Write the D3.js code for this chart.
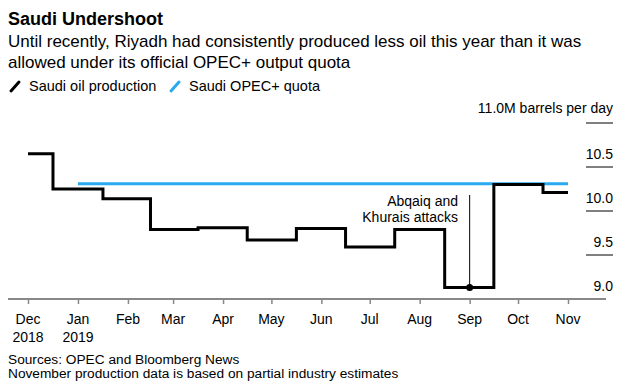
<!DOCTYPE html>
<html lang="en">
	<head>
		<meta charset="utf-8">
		<title>Saudi Undershoot</title>
		<script type="text/javascript" src="https://cdn.jsdelivr.net/npm/d3@7"></script>
		<style type="text/css">
			body{
				margin: 0;
				background: #fff;
			}
			svg text{
				font-family: "Liberation Sans", Arial, sans-serif;
				fill: #000;
			}
			.title{
				font-weight: bold;
				font-size: 18px;
			}
			.sub{
				font-size: 17px;
			}
			.lab{
				font-size: 14px;
			}
			.leg{
				font-size: 14.5px;
			}
			.note{
				font-size: 13.7px;
			}
		</style>
	</head>
	<body>
		<div class="chart"></div>
		<script type="text/javascript">

			var w = 621;
			var h = 385;

			// data
			var months = ["2018-12-01","2019-01-01","2019-02-01","2019-03-01","2019-04-01","2019-05-01",
						  "2019-06-01","2019-07-01","2019-08-01","2019-09-01","2019-10-01","2019-11-01"];
			var monthLabels = ["Dec","Jan","Feb","Mar","Apr","May","Jun","Jul","Aug","Sep","Oct","Nov"];
			var yearLabels = ["2018","2019","","","","","","","","","",""];
			var production = [10.65, 10.25, 10.14, 9.79, 9.81, 9.67, 9.80, 9.59, 9.79, 9.13, 10.30, 10.21];
			var quota = [null, 10.31, 10.31, 10.31, 10.31, 10.31, 10.31, 10.31, 10.31, 10.31, 10.31, 10.31];
			var yTicks = [9.0, 9.5, 10.0, 10.5, 11.0];

			var parseTime = d3.timeParse("%Y-%m-%d");
			var dates = months.map(parseTime);

			var svg = d3.select("div.chart")
						.append("svg")
						.attr("width", w)
						.attr("height", h);

			var xScale = d3.scaleTime()
						.domain([dates[0], dates[dates.length - 1]])
						.range([28, 568]);

			var yScale = d3.scaleLinear()
						.domain([9, 11])
						.range([299, 123]);

			// titles
			svg.append("text").attr("class","title").attr("x",8).attr("y",25).text("Saudi Undershoot");
			svg.append("text").attr("class","sub").attr("x",8).attr("y",47)
				.text("Until recently, Riyadh had consistently produced less oil this year than it was");
			svg.append("text").attr("class","sub").attr("x",8).attr("y",68)
				.text("allowed under its official OPEC+ output quota");

			// legend
			var legend = [{name:"Saudi oil production", color:"#000", x:10},
						  {name:"Saudi OPEC+ quota", color:"#29aaf0", x:170}];
			var lg = svg.selectAll("g.legend")
						.data(legend)
						.enter()
						.append("g")
						.attr("class","legend")
						.attr("transform",(d)=>"translate("+d.x+",0)");
			lg.append("line")
				.attr("x1",1).attr("y1",91).attr("x2",9).attr("y2",82)
				.attr("stroke",(d)=>d.color)
				.attr("stroke-width",3)
				.attr("stroke-linecap","round");
			lg.append("text").attr("class","leg").attr("x",19).attr("y",91).text((d)=>d.name);

			// y grid (short segments on the right)
			svg.selectAll("line.grid")
				.data(yTicks.slice(1))
				.enter()
				.append("line")
				.attr("class","grid")
				.attr("x1",586).attr("x2",613)
				.attr("y1",(d)=>yScale(d)).attr("y2",(d)=>yScale(d))
				.attr("stroke","#000")
				.attr("stroke-width",1);

			svg.selectAll("text.ylab")
				.data(yTicks)
				.enter()
				.append("text")
				.attr("class","lab ylab")
				.attr("text-anchor","end")
				.attr("x",613)
				.attr("y",(d,i)=>yScale(d) - (i == yTicks.length - 1 ? 10.5 : 8.5))
				.text((d,i)=> i == yTicks.length - 1 ? d3.format(".1f")(d) + "M barrels per day" : d3.format(".1f")(d));

			// x axis
			var xAxis = d3.axisBottom(xScale)
						.tickValues(dates)
						.tickSize(5)
						.tickFormat("");

			var gx = svg.append("g")
				.attr("class","xAxis")
				.attr("transform","translate(0,"+yScale(9)+")")
				.call(xAxis);
			gx.select(".domain").remove();
			gx.selectAll(".tick line").attr("stroke","#888").attr("stroke-width",1.5);
			gx.insert("line",":first-child")
				.attr("x1",8).attr("x2",606)
				.attr("stroke","#888")
				.attr("stroke-width",2);

			svg.selectAll("text.mon")
				.data(dates)
				.enter()
				.append("text")
				.attr("class","lab mon")
				.attr("text-anchor","middle")
				.attr("x",(d)=>xScale(d))
				.attr("y",324)
				.text((d,i)=>monthLabels[i]);
			svg.selectAll("text.yr")
				.data(dates)
				.enter()
				.append("text")
				.attr("class","lab yr")
				.attr("text-anchor","middle")
				.attr("x",(d)=>xScale(d))
				.attr("y",342)
				.text((d,i)=>yearLabels[i]);

			// lines
			var line = d3.line()
						.defined((d)=>d[1] != null)
						.x((d)=>xScale(d[0]))
						.y((d)=>yScale(d[1]))
						.curve(d3.curveStep);

			svg.append("path")
				.datum(dates.map((d,i)=>[d, quota[i]]))
				.attr("d", line)
				.attr("fill","none")
				.attr("stroke","#29aaf0")
				.attr("stroke-width",3);

			svg.append("path")
				.datum(dates.map((d,i)=>[d, production[i]]))
				.attr("d", line)
				.attr("fill","none")
				.attr("stroke","#000")
				.attr("stroke-width",3)
				.attr("stroke-linejoin","miter");

			// annotation
			var sep = dates[9];
			svg.append("line")
				.attr("x1",xScale(sep)).attr("x2",xScale(sep))
				.attr("y1",195).attr("y2",yScale(production[9]))
				.attr("stroke","#000")
				.attr("stroke-width",1);
			svg.append("circle")
				.attr("cx",xScale(sep))
				.attr("cy",yScale(production[9]))
				.attr("r",3.5)
				.attr("fill","#000");
			svg.append("text").attr("class","lab").attr("text-anchor","end")
				.attr("x",458).attr("y",206).text("Abqaiq and");
			svg.append("text").attr("class","lab").attr("text-anchor","end")
				.attr("x",458).attr("y",222).text("Khurais attacks");

			// footer
			svg.append("text").attr("class","note").attr("x",8).attr("y",364).text("Sources: OPEC and Bloomberg News");
			svg.append("text").attr("class","note").attr("x",8).attr("y",378).text("November production data is based on partial industry estimates");

		</script>
	</body>
</html>
